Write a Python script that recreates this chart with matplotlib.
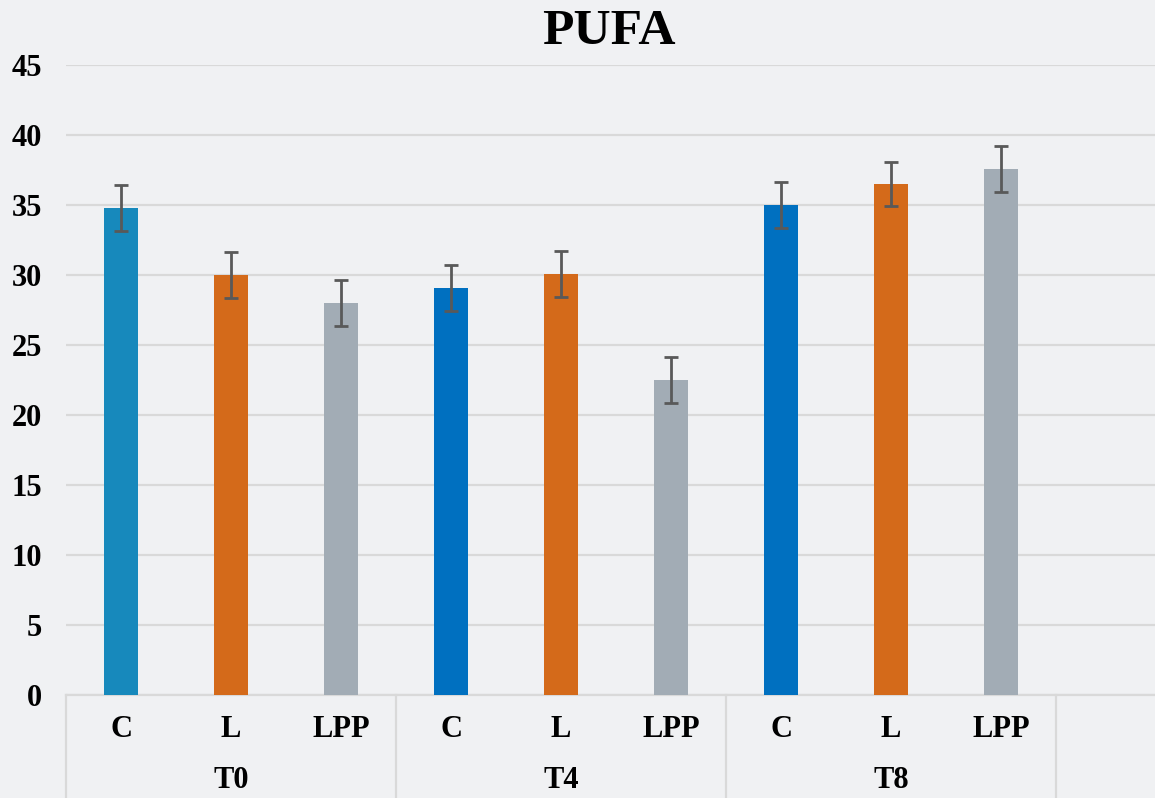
import matplotlib
matplotlib.use('Agg')
import matplotlib.pyplot as plt
import matplotlib.transforms as mtransforms

# Data
groups = ['T0', 'T4', 'T8']
treatments = ['C', 'L', 'LPP']
values = [34.8, 30.0, 28.0,
          29.1, 30.1, 22.5,
          35.0, 36.5, 37.6]
errors = [1.65, 1.65, 1.65,
          1.65, 1.65, 1.65,
          1.65, 1.6, 1.65]
bar_colors = ['#1789BC', '#D46A1A', '#A2ACB5',
              '#0070C0', '#D46A1A', '#A2ACB5',
              '#0070C0', '#D46A1A', '#A2ACB5']
y_ticks = [0, 5, 10, 15, 20, 25, 30, 35, 40, 45]

BG = '#F0F1F3'
GRID = '#D9D9D9'
ERR = '#595959'
FONT = 'Liberation Serif'

W, H = 1155, 798
fig = plt.figure(figsize=(W / 100, H / 100), dpi=100, facecolor=BG)
ax = fig.add_axes([66 / W, 103 / H, (W - 66) / W, 630 / H], facecolor=BG)

x = list(range(len(values)))
ax.bar(x, values, width=0.31, color=bar_colors, zorder=3)
ax.errorbar(x, values, yerr=errors, fmt='none', ecolor=ERR, elinewidth=2,
            capsize=5, capthick=2, zorder=4)

ax.set_xlim(-0.5, 9.4)
ax.set_ylim(0, 45)
ax.set_yticks(y_ticks)
ax.set_yticklabels([str(t) for t in y_ticks], fontfamily=FONT,
                   fontweight='bold', fontsize=22)
ax.tick_params(axis='y', length=0, pad=17)
ax.set_xticks([])
ax.grid(axis='y', color=GRID, linewidth=1.6, zorder=0)
for s in ['top', 'right', 'left']:
    ax.spines[s].set_visible(False)
ax.spines['bottom'].set_color(GRID)
ax.spines['bottom'].set_linewidth(1.6)

# category axis: treatment row, group row and separators
trans = mtransforms.blended_transform_factory(ax.transData, ax.transAxes)
for i, lab in enumerate(treatments * len(groups)):
    ax.text(i, -0.055, lab, transform=trans, ha='center', va='center',
            fontfamily=FONT, fontweight='bold', fontsize=22)
for g, lab in enumerate(groups):
    ax.text(g * 3 + 1, -0.136, lab, transform=trans, ha='center', va='center',
            fontfamily=FONT, fontweight='bold', fontsize=22)
for b in [-0.5, 2.5, 5.5, 8.5]:
    ax.plot([b, b], [0, -0.17], transform=trans, color=GRID, linewidth=1.6,
            clip_on=False)

fig.text(609 / W, 1 - 32 / H, 'PUFA', ha='center', va='center',
         fontfamily=FONT, fontweight='bold', fontsize=37)

fig.savefig('out.png', dpi=100, facecolor=BG)
